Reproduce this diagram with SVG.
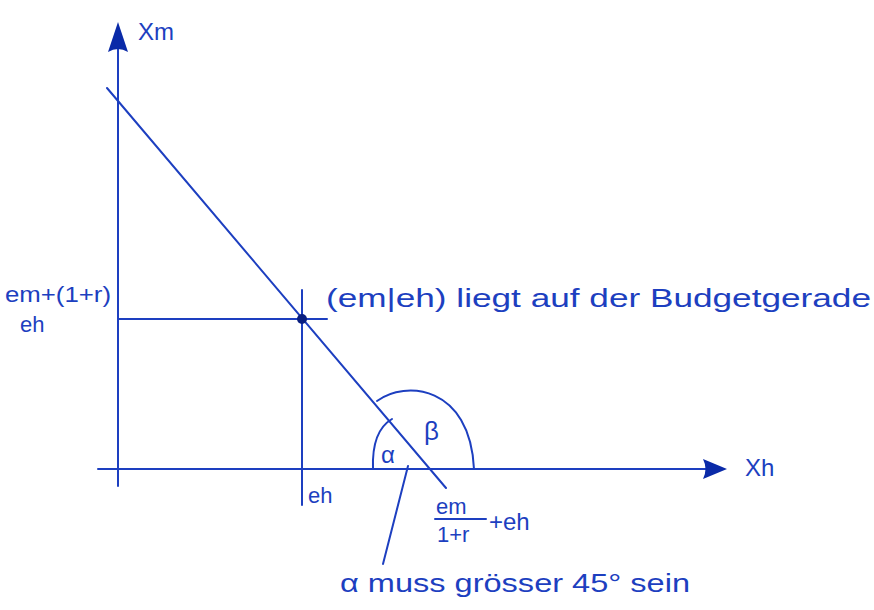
<svg xmlns="http://www.w3.org/2000/svg" width="874" height="610" viewBox="0 0 874 610">
<style>
.ln{stroke:#1d3fc0;stroke-width:2;fill:none;stroke-linecap:round}
.t{font-family:"Liberation Sans",Arial,sans-serif;fill:#1d3fc0}
</style>
<rect width="874" height="610" fill="#fff"/>
<g id="axes">
<line class="ln" x1="118" y1="486" x2="118" y2="48"/>
<path d="M118 22 L108 52 Q118 46 128 52 Z" fill="#0a2aa8"/>
<line class="ln" x1="98" y1="469" x2="706" y2="469"/>
<path d="M727 469 L703 459 Q708 469 703 479 Z" fill="#0a2aa8"/>
<text class="t" x="138" y="40" font-size="24">Xm</text>
<text class="t" x="745" y="476" font-size="24">Xh</text>
</g>
<g id="connectors">
<line class="ln" x1="107" y1="88" x2="446" y2="488"/>
<line class="ln" x1="118" y1="319" x2="327" y2="319"/>
<line class="ln" x1="302" y1="290" x2="302" y2="505"/>
<path class="ln" d="M373 469 C372 442 380 426 392 419"/>
<path class="ln" d="M377 401 C405 380 470 385 474 469"/>
<line class="ln" x1="408" y1="466" x2="383" y2="564"/>
</g>
<g id="point">
<circle cx="302" cy="319" r="5" fill="#0a1f80"/>
<text class="t" x="326" y="307" font-size="26" textLength="545" lengthAdjust="spacingAndGlyphs">(em|eh)  liegt auf der Budgetgerade</text>
</g>
<g id="ylabel">
<text class="t" x="5" y="302" font-size="22" textLength="106" lengthAdjust="spacingAndGlyphs">em+(1+r)</text>
<text class="t" x="20" y="332" font-size="22">eh</text>
</g>
<g id="xlabel-eh">
<text class="t" x="308" y="503" font-size="22">eh</text>
</g>
<g id="intercept">
<text class="t" x="436" y="514" font-size="22">em</text>
<line class="ln" x1="435" y1="519" x2="486" y2="519"/>
<text class="t" x="437" y="542" font-size="22">1+r</text>
<text class="t" x="489" y="530" font-size="24">+eh</text>
</g>
<g id="angles">
<text class="t" x="381" y="463" font-size="24">α</text>
<text class="t" x="424" y="440" font-size="26">β</text>
</g>
<g id="note">
<text class="t" x="340" y="592" font-size="26" textLength="350" lengthAdjust="spacingAndGlyphs">α muss grösser 45° sein</text>
</g>
</svg>
